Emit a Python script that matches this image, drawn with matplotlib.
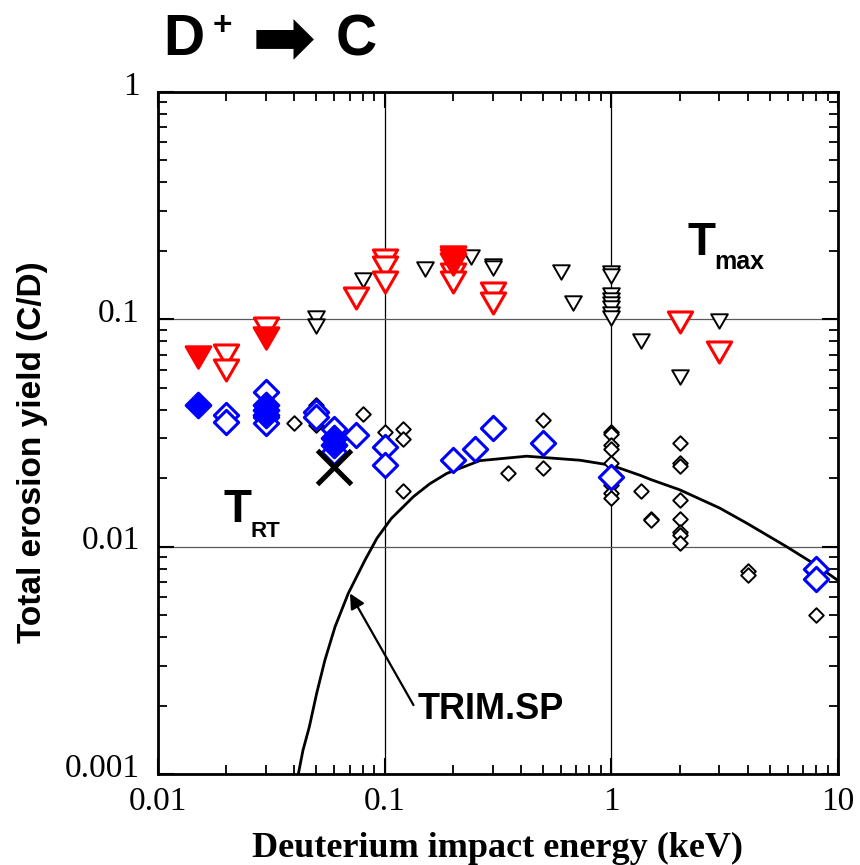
import matplotlib
matplotlib.use("Agg")
import matplotlib.pyplot as plt
from matplotlib.path import Path
from matplotlib.transforms import ScaledTranslation

# ---- data -------------------------------------------------------------
# TRIM.SP calculation (energy keV, yield C/D)
trim_e = [0.0416, 0.0436, 0.0465, 0.0501, 0.0545, 0.0604, 0.0691, 0.0819, 0.0925,
          0.107, 0.134, 0.158, 0.188, 0.263, 0.423, 0.727, 1.0, 1.34, 1.5, 2.0,
          3.0, 3.95, 5.93, 8.0, 10.0]
trim_y = [0.0010, 0.00127, 0.00161, 0.00226, 0.00317, 0.00444, 0.00623, 0.00873, 0.0109,
          0.0133, 0.0166, 0.0189, 0.021, 0.0239, 0.025, 0.0240, 0.0228, 0.0206, 0.0197, 0.0178,
          0.0148, 0.0127, 0.0100, 0.0083, 0.0071]

# Tmax, literature data (black open triangles)
tmax_lit_e = [0.05, 0.05, 0.08, 0.15, 0.24, 0.3, 0.3, 0.6, 0.68,
              1, 1, 1, 1, 1, 1, 1, 1, 1.35, 2, 3]
tmax_lit_y = [0.101, 0.093, 0.149, 0.167, 0.188, 0.172, 0.168, 0.162, 0.118,
              0.160, 0.155, 0.128, 0.122, 0.117, 0.112, 0.106, 0.101, 0.080, 0.056, 0.098]

# Tmax, this work (red open / filled triangles)
tmax_open_e = [0.02, 0.02, 0.03, 0.075, 0.1, 0.1, 0.1, 0.2, 0.2, 0.3, 0.3, 2, 3]
tmax_open_y = [0.070, 0.060, 0.092, 0.124, 0.183, 0.170, 0.146, 0.158, 0.146,
               0.130, 0.118, 0.097, 0.072]
tmax_fill_e = [0.015, 0.03, 0.2, 0.2, 0.2]
tmax_fill_y = [0.068, 0.083, 0.188, 0.182, 0.176]

# Room temperature, literature data (black open diamonds)
trt_lit_e = [0.04, 0.05, 0.05, 0.08, 0.1, 0.12, 0.12, 0.12, 0.35, 0.5, 0.5,
             1, 1, 1, 1, 1, 1, 1, 1, 1.35, 1.5, 1.5,
             2, 2, 2, 2, 2, 2, 2, 2, 4, 4, 8]
trt_lit_y = [0.035, 0.042, 0.0343, 0.0383, 0.032, 0.0328, 0.0298, 0.0176, 0.0211, 0.036, 0.0221,
             0.032, 0.0312, 0.028, 0.0268, 0.0233, 0.0187, 0.0172, 0.0163, 0.0176, 0.0133, 0.0131,
             0.0286, 0.0233, 0.0226, 0.016, 0.0132, 0.0116, 0.0112, 0.0104, 0.0078, 0.0075, 0.0050]

# Room temperature, this work (blue open / filled diamonds)
trt_open_e = [0.02, 0.02, 0.03, 0.03, 0.03, 0.05, 0.05, 0.06, 0.06, 0.075, 0.1, 0.1,
              0.2, 0.25, 0.3, 0.5, 1, 8, 8]
trt_open_y = [0.038, 0.0355, 0.048, 0.037, 0.035, 0.039, 0.037, 0.033, 0.026, 0.031,
              0.0275, 0.0228, 0.024, 0.0268, 0.0331, 0.0285, 0.0203, 0.0080, 0.0072]
trt_fill_e = [0.015, 0.03, 0.03, 0.03, 0.06, 0.06]
trt_fill_y = [0.042, 0.042, 0.040, 0.038, 0.030, 0.028]

# single cross
cross_e = [0.06]
cross_y = [0.0225]

x_ticks = [0.01, 0.1, 1, 10]
x_tick_labels = ["0.01", "0.1", "1", "10"]
y_ticks = [0.001, 0.01, 0.1, 1]
y_tick_labels = ["0.001", "0.01", "0.1", "1"]

# ---- styling ----------------------------------------------------------
SANS = "Liberation Sans"
SERIF = "Liberation Serif"

W, H = 860, 865
fig = plt.figure(figsize=(W / 100, H / 100), dpi=100)
ax = fig.add_axes([158 / W, 1 - 774 / H, (838 - 158) / W, (774 - 92) / H])


def px(x, y):
    return x / W, 1 - y / H


# marker shapes: equilateral down-triangle and square diamond
tri_down = Path([(-1, 0.866), (1, 0.866), (0, -0.866), (-1, 0.866)],
                [Path.MOVETO, Path.LINETO, Path.LINETO, Path.CLOSEPOLY])
diamond = Path([(0, 1), (1, 0), (0, -1), (-1, 0), (0, 1)],
               [Path.MOVETO, Path.LINETO, Path.LINETO, Path.LINETO, Path.CLOSEPOLY])

RED = "#ff0000"
BLUE = "#0000ff"

ax.plot(trim_e, trim_y, color="black", lw=2.0, zorder=3)

ax.plot(tmax_lit_e, tmax_lit_y, ls="none", marker=tri_down, ms=12,
        mfc="white", mec="black", mew=1.4, zorder=4)
ax.plot(trt_lit_e, trt_lit_y, ls="none", marker=diamond, ms=10.5,
        mfc="white", mec="black", mew=1.4, zorder=4)

ax.plot(tmax_open_e, tmax_open_y, ls="none", marker=tri_down, ms=17.5,
        mfc="white", mec=RED, mew=2.2, zorder=5)
ax.plot(tmax_fill_e, tmax_fill_y, ls="none", marker=tri_down, ms=18,
        mfc=RED, mec=RED, mew=2.0, zorder=6)
ax.plot(trt_open_e, trt_open_y, ls="none", marker=diamond, ms=17.5,
        mfc="white", mec=BLUE, mew=2.2, zorder=5)
ax.plot(trt_fill_e, trt_fill_y, ls="none", marker=diamond, ms=18,
        mfc=BLUE, mec=BLUE, mew=2.0, zorder=6)
ax.plot(cross_e, cross_y, ls="none", marker="x", ms=24, mec="black",
        mew=3.6, zorder=7)

ax.set_xscale("log")
ax.set_yscale("log")
ax.set_xlim(0.01, 10)
ax.set_ylim(0.001, 1)

ax.set_xticks(x_ticks)
ax.set_xticklabels(x_tick_labels)
ax.set_yticks(y_ticks)
ax.set_yticklabels(y_tick_labels)

ax.tick_params(which="both", direction="in", top=True, right=True)
ax.tick_params(which="major", length=11.5, width=1.5)
ax.tick_params(which="minor", length=6.5, width=1.3)
ax.tick_params(axis="x", which="major", pad=9)
ax.tick_params(axis="y", which="major", pad=13)

lift = ScaledTranslation(0, 9 / 100, fig.dpi_scale_trans)
for lab in ax.get_xticklabels() + ax.get_yticklabels():
    lab.set_fontfamily(SERIF)
    lab.set_fontsize(24)
for lab in ax.get_yticklabels():
    lab.set_transform(lab.get_transform() + lift)

for s in ax.spines.values():
    s.set_linewidth(2.0)

ax.grid(which="major", axis="x", color="black", lw=0.9, zorder=1)
ax.grid(which="major", axis="y", color="0.35", lw=0.9, zorder=1)
ax.set_axisbelow(True)

# TRIM.SP label with arrow onto the curve
ax.annotate("", xy=(0.0703, 0.00623), xytext=(0.134, 0.00201),
            arrowprops=dict(arrowstyle="-|>,head_length=0.9,head_width=0.45",
                            color="black", lw=1.6, shrinkA=0, shrinkB=0),
            zorder=8)
fig.text(*px(418, 719), "TRIM.SP", family=SANS, weight="bold", fontsize=26,
         ha="left", va="baseline")

# T_max and T_RT labels
fig.text(*px(687, 255), "T", family=SANS, weight="bold", fontsize=33,
         ha="left", va="baseline")
fig.text(*px(714, 269), "max", family=SANS, weight="bold", fontsize=18,
         ha="left", va="baseline")
fig.text(*px(224, 522), "T", family=SANS, weight="bold", fontsize=33,
         ha="left", va="baseline")
fig.text(*px(251, 537), "RT", family=SANS, weight="bold", fontsize=16,
         ha="left", va="baseline")

# title
fig.text(*px(163, 55), "D", family=SANS, weight="bold", fontsize=41,
         ha="left", va="baseline")
fig.text(*px(222, 26), "+", family=SANS, weight="bold", fontsize=24,
         ha="center", va="center")
fig.text(*px(284, 42), "\u27A1", family=["DejaVu Sans"], weight="bold",
         fontsize=55, ha="center", va="center")
fig.text(*px(336, 55), "C", family=SANS, weight="bold", fontsize=41,
         ha="left", va="baseline")

# axis labels
fig.text(*px(33, 452), "Total erosion yield (C/D)", family=SANS, weight="bold",
         fontsize=24, rotation=90, ha="center", va="center")
fig.text(*px(498, 857), "Deuterium impact energy (keV)", family=SERIF,
         weight="bold", fontsize=26, ha="center", va="baseline")

fig.savefig("out.png", dpi=100)
